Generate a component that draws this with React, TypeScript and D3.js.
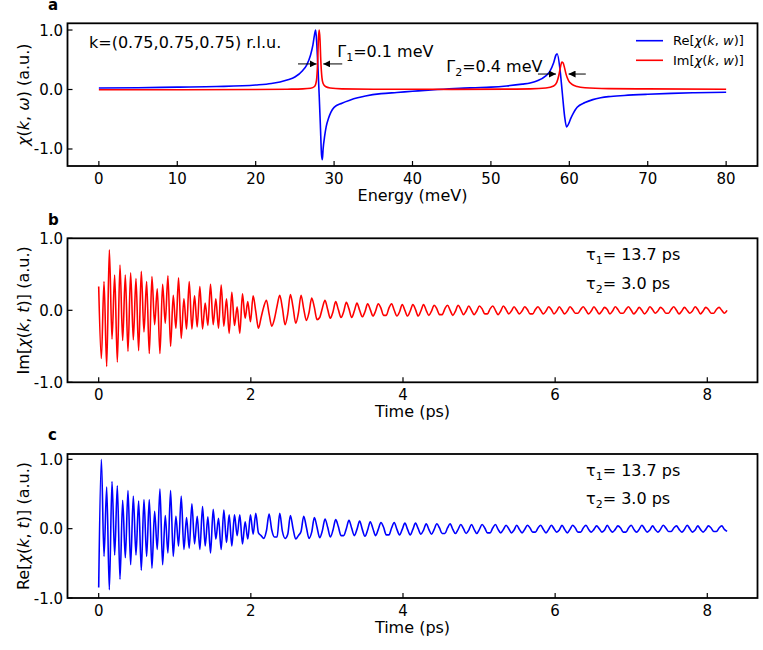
import React from 'react';
import * as d3 from 'd3';

const W = 763;
const H = 650;
const FONT = '"DejaVu Sans", Verdana, sans-serif';

// ---- panel a: chi(k, w) vs energy ----
const reEnergy = [0, 5, 10, 15, 20, 22, 24, 25, 26, 26.5, 27, 27.3, 27.5, 27.65, 27.8, 27.95, 28.1, 28.25, 28.4, 28.5,
  28.6, 28.8, 29.0, 29.3, 29.6, 30, 31, 32, 33, 34, 36, 38, 40, 42, 44, 46, 48, 50, 52, 54, 55, 56, 57, 57.5, 58,
  58.3, 58.45, 58.8, 59.1, 59.4, 59.65, 59.9, 60.2, 60.5, 61, 62, 63, 64, 65, 67, 70, 73, 76, 80];
const reChi = [0.025, 0.03, 0.04, 0.05, 0.075, 0.1, 0.16, 0.21, 0.32, 0.41, 0.58, 0.75, 0.92, 1.0, 0.75, 0.35, -0.1, -0.6, -1.1, -1.18,
  -1.0, -0.78, -0.62, -0.48, -0.38, -0.3, -0.23, -0.18, -0.14, -0.11, -0.07, -0.05, -0.03, -0.01, 0.005, 0.02, 0.03, 0.04, 0.06, 0.09, 0.11, 0.15, 0.23, 0.3, 0.45,
  0.58, 0.6, 0.35, -0.05, -0.45, -0.63, -0.58, -0.48, -0.4, -0.3, -0.22, -0.17, -0.14, -0.12, -0.1, -0.08, -0.065, -0.055, -0.045];

const imEnergy = [0, 10, 20, 24, 26, 27, 27.5, 27.75, 27.9, 28.0, 28.1, 28.2, 28.3, 28.45, 28.6, 28.9, 29.5, 31, 35, 45,
  52, 55, 57, 58, 58.4, 58.7, 58.9, 59.05, 59.2, 59.4, 59.6, 59.9, 60.3, 61, 62, 65, 70, 80];
const imChi = [-0.005, -0.003, 0.0, 0.005, 0.01, 0.02, 0.05, 0.15, 0.45, 0.85, 1.0, 0.85, 0.5, 0.2, 0.1, 0.05, 0.025, 0.01, 0.005, 0.003,
  0.006, 0.01, 0.025, 0.06, 0.12, 0.26, 0.4, 0.46, 0.45, 0.36, 0.25, 0.15, 0.09, 0.05, 0.03, 0.015, 0.01, 0.005];

const energyTicks = [0, 10, 20, 30, 40, 50, 60, 70, 80];
const chiTicks = [1.0, 0.0, -1.0];

// ---- panels b, c: chi(k, t), one sample every DT ps ----
const DT = 0.035;
const imChiT = [
  // 0 - 2 ps
  0.33, -0.67, 0.40, -0.78, 0.84, -0.40, 0.49, -0.72, 0.63, -0.42,
  0.49, -0.57, 0.52, -0.41, 0.44, -0.56, 0.54, -0.30, 0.40, -0.60,
  0.47, -0.20, 0.30, -0.60, 0.36, -0.18, 0.48, -0.50, 0.21, -0.25,
  0.45, -0.39, 0.16, -0.26, 0.40, -0.26, 0.20, -0.23, 0.33, -0.26,
  0.10, -0.21, 0.36, -0.20, 0.16, -0.25, 0.35, -0.22, 0.16, -0.32,
  0.25, -0.21, 0.05, -0.32, 0.23, -0.11, 0.12, -0.16,
  // 2 - 4 ps
  0.20, -0.02, -0.25, -0.10, 0.05,
  0.14, -0.05, -0.22, -0.12, 0.06,
  0.21, 0.03, -0.20, -0.05,
  0.22, 0.04, -0.18, -0.04,
  0.21, 0.02, -0.14, -0.03,
  0.17, 0.04, -0.13, -0.10, 0.03,
  0.14, 0.01, -0.11, -0.02,
  0.12, 0.01, -0.10, -0.02,
  0.11, 0.02, -0.10, -0.01,
  0.10, 0.00, -0.09, -0.02,
  0.09, 0.01, -0.08, -0.01,
  0.09, 0.03, -0.07, -0.07, 0.03,
  0.09, 0.00, -0.08, -0.02,
  // 4 - 8.26 ps
  0.08, 0.00, -0.08, -0.01, 0.08, 0.01, -0.08, -0.01, 0.08, 0.00, -0.07, -0.01, 0.07, 0.02, -0.06, -0.06, 0.02,
  0.07, 0.00, -0.07, -0.01, 0.07, 0.01, -0.06, -0.01, 0.06, 0.00, -0.06, -0.01, 0.06, 0.02, -0.05, -0.05, 0.02,
  0.06, 0.00, -0.06, -0.01, 0.06, 0.01, -0.05, -0.01, 0.05, 0.00, -0.05, -0.01, 0.05, 0.01, -0.05, -0.05, 0.01,
  0.05, 0.00, -0.05, -0.01, 0.05, 0.01, -0.05, -0.01, 0.05, 0.00, -0.05, -0.01, 0.05, 0.01, -0.04, -0.04, 0.01,
  0.05, 0.00, -0.05, -0.01, 0.05, 0.00, -0.05, -0.01, 0.04, 0.01, -0.05, -0.01, 0.05, 0.01, -0.04, -0.04, 0.01,
  0.05, 0.00, -0.05, -0.01, 0.04, 0.00, -0.05, -0.01, 0.05, 0.01, -0.04, -0.01, 0.04, 0.01, -0.04, -0.04, 0.01,
  0.05, 0.00, -0.05, -0.01, 0.04, 0.00, -0.04, -0.01, 0.05, 0.01, -0.05, -0.01, 0.04, 0.01, -0.04, -0.04, 0.01,
  0.04, 0.00, -0.04, 0.00,
];
const reChiT = [
  // 0 - 2 ps
  -0.85, 1.00, -0.40, 0.60, -0.88, 0.68, -0.38, 0.62, -0.73, 0.41,
  -0.42, 0.55, -0.52, 0.47, -0.38, 0.40, -0.60, 0.42, -0.40, 0.42,
  -0.57, 0.25, -0.30, 0.57, -0.52, 0.19, -0.35, 0.55, -0.40, 0.18,
  -0.25, 0.47, -0.30, 0.16, -0.28, 0.36, -0.22, 0.18, -0.30, 0.32,
  -0.25, 0.17, -0.35, 0.28, -0.15, 0.15, -0.30, 0.27, -0.20, 0.20,
  -0.25, 0.20, -0.10, 0.20, -0.22, 0.10, -0.15, 0.20,
  // 2 - 4 ps
  -0.08,
  0.22, -0.06, -0.10, -0.14, -0.03,
  0.21, -0.02, -0.12, -0.12,
  0.22, -0.04, -0.14, -0.08,
  0.19, 0.00, -0.15, -0.10, -0.04,
  0.18, 0.02, -0.14, -0.05,
  0.16, 0.02, -0.13, -0.03,
  0.14, 0.02, -0.12, -0.02,
  0.13, 0.03, -0.10, -0.10, 0.00,
  0.12, 0.01, -0.10, -0.01,
  0.11, -0.01, -0.11, -0.02,
  0.10, 0.00, -0.10, -0.01,
  0.09, 0.02, -0.09, -0.09, 0.01,
  0.09, -0.01, -0.09, -0.01,
  // 4 - 8.26 ps
  0.08, -0.01, -0.09, -0.01, 0.08, 0.00, -0.08, -0.02, 0.07, -0.01, -0.08, -0.01, 0.07, 0.01, -0.07, -0.07, 0.01,
  0.07, -0.01, -0.07, -0.01, 0.06, 0.00, -0.07, -0.02, 0.06, -0.01, -0.07, -0.01, 0.06, 0.01, -0.06, -0.06, 0.01,
  0.06, -0.01, -0.06, -0.01, 0.05, 0.00, -0.06, -0.02, 0.05, -0.01, -0.06, -0.01, 0.05, 0.01, -0.05, -0.05, 0.01,
  0.05, -0.01, -0.06, -0.01, 0.05, 0.00, -0.05, -0.02, 0.05, -0.01, -0.06, -0.01, 0.05, 0.01, -0.05, -0.05, 0.01,
  0.05, -0.01, -0.05, -0.01, 0.04, 0.00, -0.05, -0.02, 0.05, -0.01, -0.05, -0.01, 0.04, 0.01, -0.05, -0.05, 0.01,
  0.05, -0.01, -0.05, -0.01, 0.05, 0.00, -0.05, -0.02, 0.04, -0.01, -0.05, -0.01, 0.05, 0.01, -0.04, -0.04, 0.01,
  0.04, -0.01, -0.05, -0.01, 0.05, 0.00, -0.05, -0.02, 0.04, -0.01, -0.05, -0.01, 0.04, 0.01, -0.04, -0.04, 0.01,
  0.04, -0.01, -0.04,
];
const timeTicks = [0, 2, 4, 6, 8];

type Box = { left: number; right: number; top: number; bottom: number };
type Pt = { x: number; y: number };

const boxA: Box = { left: 67.5, right: 757.5, top: 23.3, bottom: 166 };
const boxB: Box = { left: 67.5, right: 757.5, top: 238.3, bottom: 382.3 };
const boxC: Box = { left: 67.5, right: 757.5, top: 454, bottom: 598 };

const fmt1 = (v: number) => v.toFixed(1);
const fmt0 = (v: number) => String(v);

function Axes({ box, x, y, xTicks, yTicks, xFmt, letter, letterY, xLabel, yLabel }: any) {
  const cy = (box.top + box.bottom) / 2;
  return (
    <g fontFamily={FONT} fill="#000">
      <rect x={box.left} y={box.top} width={box.right - box.left} height={box.bottom - box.top}
        fill="none" stroke="#000" strokeWidth={1.8} />
      {xTicks.map((t: number) => (
        <g key={'x' + t}>
          <line x1={x(t)} x2={x(t)} y1={box.bottom} y2={box.bottom - 5} stroke="#000" strokeWidth={1.2} />
          <text x={x(t)} y={box.bottom + 17.5} textAnchor="middle" fontSize={15}>{xFmt(t)}</text>
        </g>
      ))}
      {yTicks.map((t: number) => (
        <g key={'y' + t}>
          <line x1={box.left} x2={box.left + 5} y1={y(t)} y2={y(t)} stroke="#000" strokeWidth={1.2} />
          <text x={box.left - 4.5} y={y(t) + 5.5} textAnchor="end" fontSize={15}>{fmt1(t)}</text>
        </g>
      ))}
      <text x={(box.left + box.right) / 2} y={box.bottom + 35} textAnchor="middle" fontSize={16}>{xLabel}</text>
      <text transform={`translate(28.5,${cy}) rotate(-90)`} textAnchor="middle" fontSize={16}>{yLabel}</text>
      <text x={48} y={letterY} fontSize={15} fontWeight="bold">{letter}</text>
    </g>
  );
}

const it = (s: string) => <tspan fontStyle="italic">{s}</tspan>;

export default function App() {
  const xA = d3.scaleLinear().domain([-4, 84]).range([boxA.left, boxA.right]);
  const yA = d3.scaleLinear().domain([-1.286, 1.113]).range([boxA.bottom, boxA.top]);
  const xT = d3.scaleLinear().domain([-0.41, 8.66]).range([boxB.left, boxB.right]);
  const yB = d3.scaleLinear().domain([-1, 1]).range([boxB.bottom, boxB.top]);
  const yC = d3.scaleLinear().domain([-1, 1.077]).range([boxC.bottom, boxC.top]);

  const reA: Pt[] = reEnergy.map((e, i) => ({ x: e, y: reChi[i] }));
  const imA: Pt[] = imEnergy.map((e, i) => ({ x: e, y: imChi[i] }));
  const imB: Pt[] = imChiT.map((v, i) => ({ x: i * DT, y: v }));
  const reC: Pt[] = reChiT.map((v, i) => ({ x: i * DT, y: v }));

  const lineA = d3.line<Pt>().x(d => xA(d.x)).y(d => yA(d.y)).curve(d3.curveMonotoneX);
  const lineB = d3.line<Pt>().x(d => xT(d.x)).y(d => yB(d.y)).curve(d3.curveMonotoneX);
  const lineC = d3.line<Pt>().x(d => xT(d.x)).y(d => yC(d.y)).curve(d3.curveMonotoneX);

  // annotation arrows (data units of panel a)
  const arrows = [
    { e0: 25.4, e1: 27.77, v: 0.43 },
    { e0: 31.04, e1: 28.62, v: 0.43 },
    { e0: 56.0, e1: 58.3, v: 0.26 },
    { e0: 62.1, e1: 59.9, v: 0.26 },
  ];

  const lw = 1.6;

  return (
    <div style={{ position: 'absolute', left: 0, top: 0 }}>
      <svg width={W} height={H} style={{ display: 'block', background: '#fff' }}>
        <defs>
          <marker id="head" viewBox="0 0 10 10" refX={10} refY={5} markerWidth={7} markerHeight={7}
            markerUnits="userSpaceOnUse" orient="auto">
            <path d="M0,0 L10,5 L0,10 z" fill="#000" />
          </marker>
        </defs>

        {/* panel a */}
        <Axes box={boxA} x={xA} y={yA} xTicks={energyTicks} yTicks={chiTicks} xFmt={fmt0}
          letter="a" letterY={10} xLabel="Energy (meV)"
          yLabel={<>{it('χ')}({it('k')}, {it('ω')}) (a.u.)</>} />
        <path d={lineA(reA) || ''} fill="none" stroke="#0000ff" strokeWidth={lw} />
        <path d={lineA(imA) || ''} fill="none" stroke="#ff0000" strokeWidth={lw} />
        {arrows.map((a, i) => (
          <line key={i} x1={xA(a.e0)} x2={xA(a.e1)} y1={yA(a.v)} y2={yA(a.v)}
            stroke="#000" strokeWidth={1} markerEnd="url(#head)" />
        ))}
        <g fontFamily={FONT} fill="#000" fontSize={16}>
          <text x={89} y={48}>k=(0.75,0.75,0.75) r.l.u.</text>
          <text x={xA(30.4)} y={yA(0.54)}>Γ<tspan fontSize={11} dy={4}>1</tspan><tspan dy={-4}>=0.1 meV</tspan></text>
          <text x={xA(44.3)} y={yA(0.30)}>Γ<tspan fontSize={11} dy={4}>2</tspan><tspan dy={-4}>=0.4 meV</tspan></text>
        </g>
        <g fontFamily={FONT} fill="#000" fontSize={13}>
          <line x1={636} x2={663} y1={40.7} y2={40.7} stroke="#0000ff" strokeWidth={lw} />
          <text x={673} y={45.3}>Re[{it('χ')}({it('k')}, {it('w')})]</text>
          <line x1={636} x2={663} y1={60.3} y2={60.3} stroke="#ff0000" strokeWidth={lw} />
          <text x={673} y={64.9}>Im[{it('χ')}({it('k')}, {it('w')})]</text>
        </g>

        {/* panel b */}
        <Axes box={boxB} x={xT} y={yB} xTicks={timeTicks} yTicks={chiTicks} xFmt={fmt0}
          letter="b" letterY={225} xLabel="Time (ps)"
          yLabel={<>Im[{it('χ')}({it('k')}, {it('t')})] (a.u.)</>} />
        <path d={lineB(imB) || ''} fill="none" stroke="#ff0000" strokeWidth={lw} strokeLinejoin="round" />
        <g fontFamily={FONT} fill="#000" fontSize={16}>
          <text x={586} y={260}>τ<tspan fontSize={11} dy={4}>1</tspan><tspan dy={-4}>= 13.7 ps</tspan></text>
          <text x={586} y={289}>τ<tspan fontSize={11} dy={4}>2</tspan><tspan dy={-4}>= 3.0 ps</tspan></text>
        </g>

        {/* panel c */}
        <Axes box={boxC} x={xT} y={yC} xTicks={timeTicks} yTicks={chiTicks} xFmt={fmt0}
          letter="c" letterY={440} xLabel="Time (ps)"
          yLabel={<>Re[{it('χ')}({it('k')}, {it('t')})] (a.u.)</>} />
        <path d={lineC(reC) || ''} fill="none" stroke="#0000ff" strokeWidth={lw} strokeLinejoin="round" />
        <g fontFamily={FONT} fill="#000" fontSize={16}>
          <text x={586} y={476}>τ<tspan fontSize={11} dy={4}>1</tspan><tspan dy={-4}>= 13.7 ps</tspan></text>
          <text x={586} y={504}>τ<tspan fontSize={11} dy={4}>2</tspan><tspan dy={-4}>= 3.0 ps</tspan></text>
        </g>
      </svg>
    </div>
  );
}
